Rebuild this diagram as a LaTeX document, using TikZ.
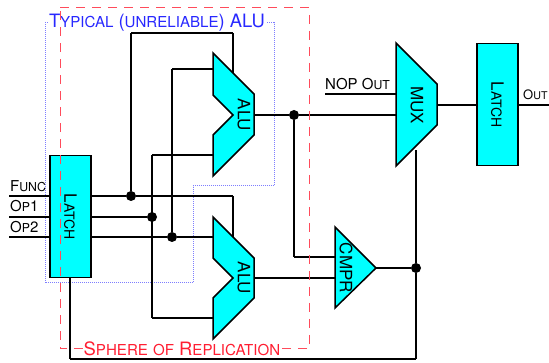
\documentclass[tikz,border=0pt]{standalone}
\usepackage{fontspec}
\setmainfont{TeX Gyre Heros}
\definecolor{partcyan}{RGB}{0,255,255}
\definecolor{zoneblue}{RGB}{40,40,255}
\definecolor{zonered}{RGB}{255,30,50}
\newcommand{\smc}[2]{#1{\addfontfeatures{Scale=0.82}#2}}
\tikzstyle{wire}=[line width=1.5pt,line join=miter]
\tikzstyle{part}=[draw,line width=1.5pt,fill=partcyan,line join=miter]
\tikzstyle{latchbox}=[part,minimum width=41pt,minimum height=122pt,inner sep=0pt,font=\fontsize{17}{17}\selectfont]
\tikzstyle{partlabel}=[inner sep=0pt,rotate=-90,font=\fontsize{17}{17}\selectfont]
\tikzstyle{dot}=[circle,fill=black,minimum size=10pt,inner sep=0pt]
\tikzstyle{siglabel}=[inner sep=0pt,anchor=base west,font=\fontsize{15}{15}\selectfont]
\tikzstyle{zonelabel}=[inner sep=1pt,fill=white,font=\fontsize{18.4}{18.4}\selectfont]

\begin{document}
\begin{tikzpicture}[x=1pt,y=-1pt]
    \useasboundingbox (0,0) rectangle (549,363);
    % unreliable part
    \draw[zoneblue!60,densely dotted,line width=1pt] (45,23) -- (274,23) -- (274,186) -- (193,186) -- (193,283) -- (45,283) -- cycle;
    \node[zonelabel,text=zoneblue] (typical) at (157,23) {\smc{T}{YPICAL} (\smc{}{UNRELIABLE}) ALU};

    \node[latchbox] (latch1) at (70.5,216.5) {\rotatebox{-90}{\smc{L}{ATCH}}};
    \node[latchbox] (latch2) at (497.5,104.5) {\rotatebox{-90}{\smc{L}{ATCH}}};

    \coordinate (func) at (9,196);
    \coordinate (op1) at (9,217);
    \coordinate (op2) at (9,237);
    \coordinate (func1) at (50,196);
    \coordinate (op11) at (50,217);
    \coordinate (op21) at (50,237);
    \coordinate (func2) at (91,196);
    \coordinate (op12) at (91,217);
    \coordinate (op22) at (91,237);
    \node[dot] (d1) at (131,196) {};
    \node[dot] (d2) at (152,217) {};
    \node[dot] (d3) at (172,237) {};
    \node[dot] (d4) at (294,115) {};
    \node[dot] (d5) at (416,268) {};

    \coordinate (a) at (131,33);
    \coordinate (b) at (233,33);
    \coordinate (c) at (233,80);
    \coordinate (e) at (233,196);
    \coordinate (f) at (233,240);
    \coordinate (g) at (172,69);
    \coordinate (h) at (213,69);
    \coordinate (i) at (152,155);
    \coordinate (j) at (213,155);
    \coordinate (k) at (152,318);
    \coordinate (l) at (213,318);
    \coordinate (m) at (213,237);
    \coordinate (alu1o) at (254,115);
    \coordinate (alu2o) at (254,278);
    \coordinate (muxa) at (396,115);
    \coordinate (muxb) at (396,94);
    \coordinate (muxo) at (437,105);
    \coordinate (nop) at (325,94);
    \coordinate (n) at (294,257);
    \coordinate (cmpa) at (335,257);
    \coordinate (cmpb) at (335,278);
    \coordinate (cmpo) at (376,268);
    \coordinate (o) at (416,150);
    \coordinate (p) at (416,359);
    \coordinate (q) at (70,359);
    \coordinate (r) at (70,278);
    \coordinate (s) at (477,105);
    \coordinate (t) at (518,105);
    \coordinate (out) at (549,105);

    \foreach \from/\to in {func/func1,op1/op11,op2/op21,func2/d1,op12/d2,op22/d3,d1/e,e/f,d1/a,a/b,b/c,d3/m,d3/g,g/h,i/j,i/k,k/l,alu1o/d4,d4/muxa,nop/muxb,d4/n,n/cmpa,alu2o/cmpb,cmpo/d5,d5/o,d5/p,p/q,q/r,muxo/s,t/out}
    \draw[wire] (\from) -- (\to);

    \draw[part] (213,53) -- (254,94) -- (254,135) -- (213,176) -- (213,135) -- (233,115) -- (213,95) -- cycle;
    \draw[part] (213,217) -- (254,258) -- (254,298) -- (213,339) -- (213,298) -- (233,278) -- (213,258) -- cycle;
    \draw[part] (396,43) -- (437,84) -- (437,125) -- (396,166) -- cycle;
    \draw[part] (335,227) -- (376,268) -- (335,308) -- cycle;
    \node[partlabel] (alu1) at (244,115) {ALU};
    \node[partlabel] (alu2) at (244,278) {ALU};
    \node[partlabel] (mux) at (417,105) {MUX};
    \node[partlabel] (cmpr) at (346,268) {CMPR};

    \node[siglabel] (lfunc) at (10,192) {\smc{F}{UNC}};
    \node[siglabel] (lop1) at (10,212) {\smc{O}{P}1};
    \node[siglabel] (lop2) at (10,233) {\smc{O}{P}2};
    \node[siglabel] (lnop) at (325,90) {NOP \smc{O}{UT}};
    \node[siglabel,font=\fontsize{13}{13}\selectfont] (lout) at (523,100) {\smc{O}{UT}};

    % replicated part
    \draw[zonered!80,dashed,dash pattern=on 9pt off 7pt,line width=1pt] (60,8) -- (309,8) -- (309,349) -- (60,349) -- cycle;
    \node[zonelabel,text=zonered] (sphere) at (182,349) {\smc{S}{PHERE} \smc{}{OF} \smc{R}{EPLICATION}};
\end{tikzpicture}
\end{document}
